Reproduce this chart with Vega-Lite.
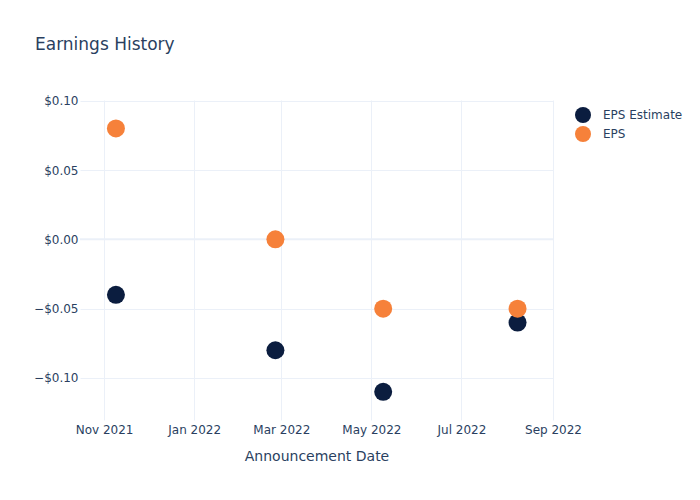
{
  "$schema": "https://vega.github.io/schema/vega-lite/v6.json",
  "width": 473,
  "height": 320,
  "autosize": {"type": "none"},
  "padding": {"left": 80, "top": 100, "right": 147, "bottom": 80},
  "background": "white",
  "config": {
    "font": "DejaVu Sans",
    "view": {"stroke": null},
    "axis": {"gridColor": "#EBF0F8", "gridWidth": 1, "domain": false, "ticks": false, "labelColor": "#2a3f5f", "labelFontSize": 12, "titleColor": "#2a3f5f", "titleFontSize": 14, "titleFontWeight": "normal"}
  },
  "title": {"text": "Earnings History", "anchor": "start", "frame": "group", "dx": -45, "offset": 41, "fontSize": 17, "fontWeight": "normal", "color": "#2a3f5f", "font": "DejaVu Sans"},
  "data": {"values": [
    {"date": "2021-11-09", "series": "EPS Estimate", "value": -0.04},
    {"date": "2022-02-25", "series": "EPS Estimate", "value": -0.08},
    {"date": "2022-05-09", "series": "EPS Estimate", "value": -0.11},
    {"date": "2022-08-08", "series": "EPS Estimate", "value": -0.06},
    {"date": "2021-11-09", "series": "EPS", "value": 0.08},
    {"date": "2022-02-25", "series": "EPS", "value": 0.0},
    {"date": "2022-05-09", "series": "EPS", "value": -0.05},
    {"date": "2022-08-08", "series": "EPS", "value": -0.05}
  ]},
  "layer": [
    {
      "data": {"values": [{"z": 0}]},
      "mark": {"type": "rule", "color": "#EBF0F8", "strokeWidth": 2},
      "encoding": {"y": {"field": "z", "type": "quantitative", "scale": {"domain": [-0.1303, 0.1005]}}}
    },
    {
      "mark": {"type": "point", "filled": true, "opacity": 1, "size": 324, "shape": "circle"},
      "encoding": {
        "x": {"field": "date", "type": "temporal", "title": "Announcement Date",
          "scale": {"domain": ["2021-10-15T16:00:00", "2022-09-01T00:00:00"]},
          "axis": {"values": ["2021-11-01T00:00:00", "2022-01-01T00:00:00", "2022-03-01T00:00:00", "2022-05-01T00:00:00", "2022-07-01T00:00:00", "2022-09-01T00:00:00"], "format": "%b %Y", "labelPadding": 4, "titlePadding": 14, "labelFlush": false}},
        "y": {"field": "value", "type": "quantitative", "title": null,
          "scale": {"domain": [-0.1303, 0.1005], "nice": false, "zero": false},
          "axis": {"values": [-0.1, -0.05, 0, 0.05, 0.1], "labelExpr": "datum.value < -0.0001 ? '\u2212$' + format(-datum.value, '.2f') : '$' + format(datum.value, '.2f')", "labelPadding": 2}},
        "color": {"field": "series", "type": "nominal", "title": null,
          "scale": {"domain": ["EPS Estimate", "EPS"], "range": ["#0b1d3f", "#f6813a"]},
          "legend": {"orient": "none", "legendX": 495, "legendY": 7, "symbolSize": 256, "symbolType": "circle", "labelFontSize": 12, "labelColor": "#2a3f5f", "rowPadding": 3, "labelOffset": 12, "symbolStrokeWidth": 0}},
        "order": {"field": "series", "sort": "descending"}
      }
    }
  ]
}
